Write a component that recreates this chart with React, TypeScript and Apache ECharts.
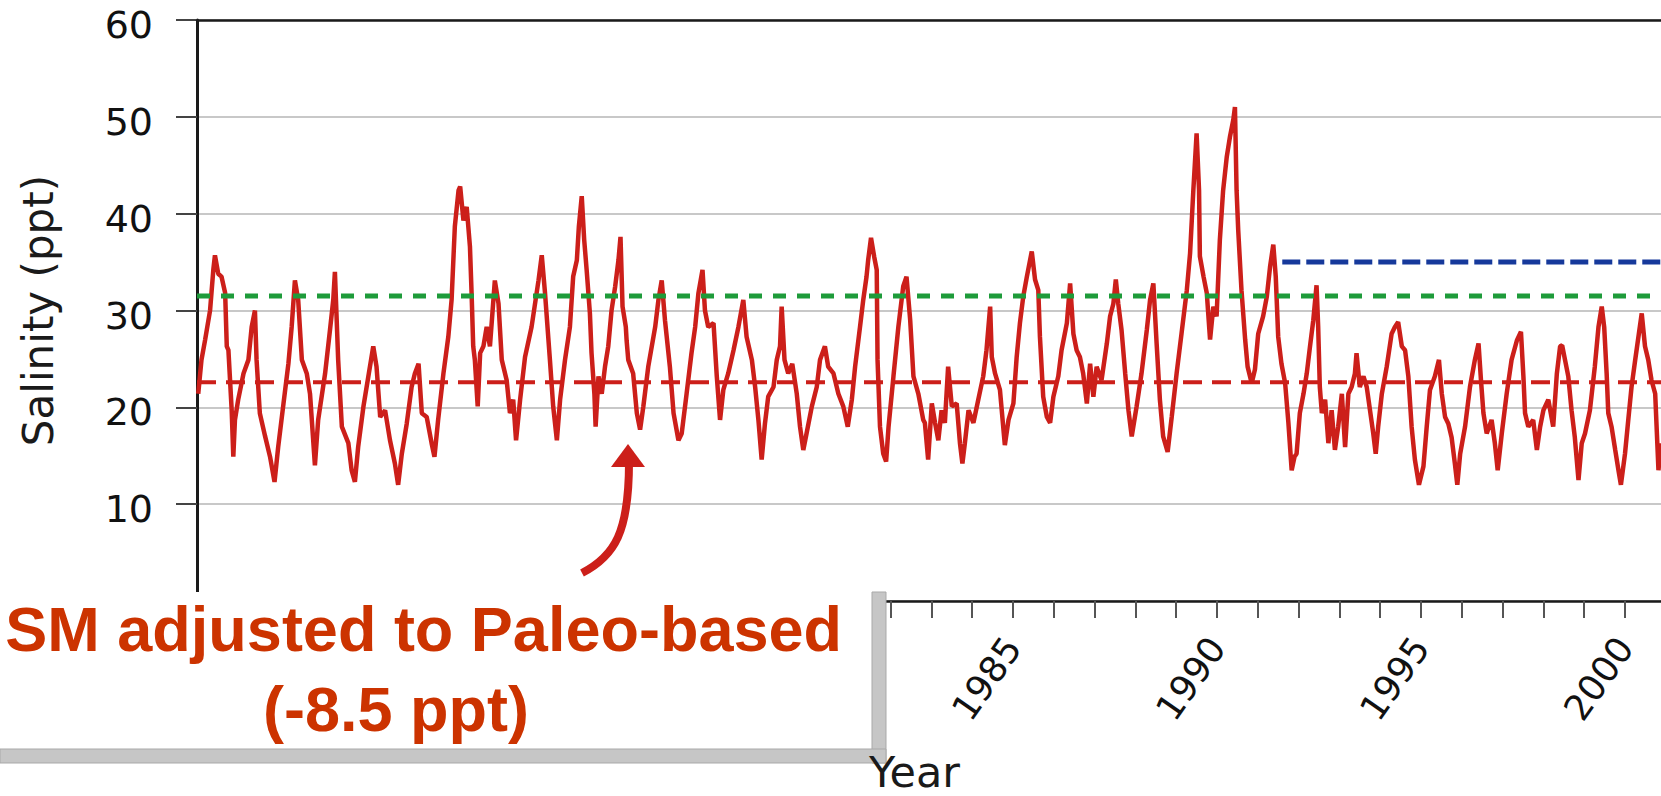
import React, { useEffect, useRef } from "react";
import * as echarts from "echarts";

// ---- data ----
const years = [
  1965.03, 1965.11, 1965.2, 1965.32, 1965.4, 1965.44, 1965.52, 1965.6, 1965.69, 1965.73, 1965.77, 1965.85, 1965.89, 1965.93,
  1966.01, 1966.14, 1966.26, 1966.34, 1966.42, 1966.46, 1966.54, 1966.67, 1966.79, 1966.9, 1966.99, 1967.12, 1967.24, 1967.32,
  1967.4, 1967.48, 1967.57, 1967.69, 1967.77, 1967.89, 1967.97, 1968.14, 1968.26, 1968.34, 1968.38, 1968.46, 1968.55, 1968.71,
  1968.79, 1968.87, 1968.95, 1969.08, 1969.2, 1969.32, 1969.4, 1969.49, 1969.61, 1969.73, 1969.85, 1969.93, 1970.02, 1970.14,
  1970.26, 1970.34, 1970.43, 1970.51, 1970.63, 1970.75, 1970.82, 1970.91, 1971.04, 1971.16, 1971.24, 1971.32, 1971.41, 1971.45,
  1971.53, 1971.61, 1971.69, 1971.73, 1971.77, 1971.81, 1971.88, 1971.94, 1972.02, 1972.1, 1972.18, 1972.3, 1972.39, 1972.47,
  1972.59, 1972.67, 1972.75, 1972.82, 1972.92, 1973.04, 1973.2, 1973.37, 1973.45, 1973.53, 1973.65, 1973.73,
  1973.82, 1973.9, 1974.02, 1974.14, 1974.22, 1974.31, 1974.36, 1974.43, 1974.49, 1974.55, 1974.63, 1974.67, 1974.74, 1974.77,
  1974.84, 1974.92, 1975.0, 1975.08, 1975.16, 1975.25, 1975.33, 1975.38, 1975.43, 1975.51, 1975.53, 1975.57, 1975.69, 1975.78,
  1975.86, 1975.94, 1976.06, 1976.23, 1976.31, 1976.39, 1976.47, 1976.59, 1976.68, 1976.8, 1976.88, 1977.0, 1977.12, 1977.21,
  1977.29, 1977.39, 1977.45, 1977.53, 1977.66, 1977.74, 1977.82, 1977.9, 1978.02, 1978.15, 1978.27, 1978.39, 1978.47, 1978.6,
  1978.68, 1978.76, 1978.84, 1978.92, 1979.0, 1979.13, 1979.21, 1979.29, 1979.33, 1979.4, 1979.49, 1979.59, 1979.7, 1979.78,
  1979.86, 1979.94, 1980.07, 1980.19, 1980.27, 1980.39, 1980.47, 1980.6, 1980.72, 1980.84, 1980.95, 1981.05, 1981.13, 1981.25,
  1981.33, 1981.41, 1981.45, 1981.52, 1981.6, 1981.66, 1981.68, 1981.74, 1981.82, 1981.89, 1981.95, 1982.07, 1982.19, 1982.31,
  1982.39, 1982.48, 1982.56, 1982.68, 1982.8,
  1982.84, 1982.92, 1983.01, 1983.09, 1983.17, 1983.25, 1983.33, 1983.41, 1983.5, 1983.62, 1983.7, 1983.76, 1983.82, 1983.91,
  1984.03, 1984.15, 1984.27, 1984.35, 1984.44, 1984.48, 1984.56, 1984.68, 1984.8, 1984.89, 1985.01, 1985.09, 1985.17, 1985.25,
  1985.34, 1985.46, 1985.54, 1985.62, 1985.66, 1985.74, 1985.83, 1985.91, 1985.99, 1986.11, 1986.19, 1986.32, 1986.4, 1986.48,
  1986.56, 1986.64, 1986.72, 1986.81, 1986.89, 1986.97, 1987.05, 1987.17, 1987.3, 1987.38, 1987.46, 1987.52, 1987.58, 1987.66,
  1987.75, 1987.83, 1987.91, 1988.03, 1988.15, 1988.28, 1988.36, 1988.44, 1988.52, 1988.6, 1988.68, 1988.79, 1988.89, 1989.01,
  1989.13, 1989.26, 1989.34, 1989.42, 1989.5, 1989.56, 1989.58, 1989.67, 1989.75, 1989.83, 1989.91, 1989.99, 1990.07, 1990.15,
  1990.24, 1990.32, 1990.4, 1990.44, 1990.48, 1990.52, 1990.6, 1990.69, 1990.75, 1990.85, 1990.93, 1991.01, 1991.13, 1991.22,
  1991.3, 1991.38, 1991.44, 1991.5, 1991.58, 1991.67, 1991.75, 1991.83, 1991.9,
  1991.95, 1992.03, 1992.12, 1992.2, 1992.28, 1992.36, 1992.44, 1992.48, 1992.52, 1992.57, 1992.65, 1992.73, 1992.81, 1992.89,
  1992.97, 1993.06, 1993.14, 1993.22, 1993.3, 1993.38, 1993.42, 1993.5, 1993.59, 1993.67, 1993.75, 1993.83, 1993.89, 1993.95,
  1994.04, 1994.16, 1994.28, 1994.36, 1994.44, 1994.53, 1994.61, 1994.69, 1994.77, 1994.85, 1994.95, 1995.06, 1995.14, 1995.22,
  1995.34, 1995.44, 1995.51, 1995.59, 1995.67, 1995.75, 1995.83, 1995.89, 1995.96, 1996.08, 1996.2, 1996.32, 1996.41, 1996.47,
  1996.53, 1996.61, 1996.73, 1996.81, 1996.88, 1996.98, 1997.1, 1997.22, 1997.35, 1997.45, 1997.51, 1997.55, 1997.63, 1997.75,
  1997.84, 1997.92, 1998.0, 1998.12, 1998.24, 1998.33, 1998.41, 1998.46, 1998.53, 1998.61, 1998.69, 1998.77, 1998.86, 1998.94,
  1999.02, 1999.14, 1999.26, 1999.35, 1999.43, 1999.49, 1999.55, 1999.59, 1999.67, 1999.76, 1999.84, 1999.9, 2000.0, 2000.08,
  2000.16, 2000.25, 2000.33, 2000.41, 2000.49, 2000.57, 2000.65, 2000.74, 2000.82, 2000.88,
];

const salinity = [
  21.4, 24.9, 27.0, 30.0, 34.2, 35.7, 33.8, 33.5, 31.8, 26.3, 25.9, 19.7, 14.9, 18.7,
  20.8, 23.5, 24.9, 28.3, 30.0, 24.9, 19.4, 17.0, 14.9, 12.3, 15.9, 20.4, 24.5, 28.3,
  33.1, 31.1, 24.9, 23.5, 21.4, 14.0, 18.7, 23.5, 28.0, 31.1, 34.0, 24.9, 18.0, 16.3,
  13.5, 12.3, 15.9, 20.1, 23.2, 26.3, 24.2, 19.0, 19.7, 16.6, 14.2, 12.0, 15.2, 18.3,
  22.1, 23.5, 24.5, 19.4, 19.0, 16.3, 14.9, 18.7, 23.5, 27.3, 31.1, 38.7, 42.4, 42.8,
  39.3, 40.7, 36.6, 31.8, 26.3, 24.9, 20.1, 25.6, 26.3, 28.3, 26.3, 33.1, 30.7, 24.9,
  22.8, 19.4, 20.8, 16.6, 20.8, 25.2, 28.3, 33.1, 35.7, 31.8, 24.9, 20.1,
  16.6, 20.8, 24.9, 28.3, 33.5, 35.2, 38.7, 41.8, 37.3, 34.2, 29.7, 25.6, 21.4, 18.0,
  23.2, 21.4, 24.2, 26.3, 30.0, 32.5, 35.2, 37.6, 30.4, 28.3, 26.9, 24.9, 23.5, 19.4,
  17.7, 20.1, 24.2, 28.3, 31.1, 33.1, 29.0, 24.2, 19.4, 16.6, 17.3, 21.4, 25.6, 28.3,
  31.8, 34.2, 30.0, 28.3, 28.7, 23.2, 18.7, 21.8, 23.5, 25.9, 28.3, 31.1, 27.3, 24.9,
  22.1, 18.7, 14.6, 18.3, 21.1, 22.1, 24.9, 26.3, 30.4, 24.9, 23.5, 24.5, 21.4, 18.0,
  15.6, 17.3, 20.1, 22.1, 24.9, 26.3, 24.2, 23.5, 21.4, 20.1, 18.0, 20.8, 24.2, 28.3,
  31.1, 33.5, 35.2, 37.5, 35.5, 34.2, 24.9, 18.0, 15.2, 14.4, 18.0, 23.2, 28.3, 32.5,
  33.5, 29.0, 23.2, 21.4, 18.7,
  18.4, 14.6, 20.4, 18.4, 16.6, 19.7, 18.4, 24.2, 20.1, 20.4, 16.3, 14.2, 16.3, 19.7,
  18.4, 20.8, 23.2, 25.9, 30.4, 25.2, 23.5, 21.8, 16.1, 18.7, 20.4, 25.2, 28.7, 31.4,
  33.5, 36.1, 33.2, 32.1, 27.3, 21.1, 19.0, 18.4, 21.1, 23.2, 25.9, 28.7, 32.8, 27.6,
  25.9, 25.2, 23.5, 20.4, 24.5, 21.1, 24.2, 22.8, 26.6, 29.4, 30.7, 33.2, 30.7, 28.0,
  23.5, 19.7, 17.0, 20.1, 23.5, 28.0, 31.1, 32.8, 26.6, 20.8, 17.0, 15.4, 19.0, 23.5,
  27.6, 32.1, 35.9, 42.4, 48.3, 42.4, 35.6, 33.5, 31.8, 27.0, 30.4, 29.4, 37.3, 42.4,
  45.9, 48.0, 49.7, 51.0, 42.4, 38.3, 32.1, 27.0, 24.2, 22.5, 23.9, 27.6, 29.4, 31.4,
  34.5, 36.8, 33.5, 27.3, 24.5, 22.5, 18.4, 13.5, 14.9,
  15.2, 19.4, 21.4, 23.5, 26.3, 29.0, 32.6, 28.3, 22.1, 19.4, 20.8, 16.3, 19.7, 15.6,
  18.0, 21.4, 15.9, 21.4, 22.1, 23.5, 25.6, 22.1, 23.2, 22.1, 19.7, 17.3, 15.2, 18.0,
  21.4, 24.2, 27.6, 28.3, 28.8, 26.3, 25.9, 23.2, 18.0, 14.6, 12.0, 13.9, 18.0, 21.8,
  23.2, 24.9, 21.4, 19.0, 18.3, 16.9, 14.2, 12.0, 15.2, 18.0, 22.1, 24.9, 26.6, 22.8,
  19.4, 17.3, 18.7, 16.3, 13.5, 17.3, 21.4, 24.9, 26.9, 27.8, 23.2, 19.4, 18.0, 18.7,
  15.6, 18.0, 19.7, 20.8, 18.0, 23.5, 26.3, 26.4, 24.9, 23.2, 19.7, 16.9, 12.5, 16.3,
  17.3, 19.7, 24.2, 28.3, 30.4, 28.3, 23.5, 19.4, 18.0, 15.6, 13.5, 12.0, 15.2, 18.7,
  22.1, 24.9, 27.3, 29.7, 26.3, 24.9, 22.8, 21.4, 13.5, 16.3,
];

// reference levels (ppt)
const paleoLevel = 22.6; // red dashed
const greenLevel = 31.5; // green dashed
const blueLevel = 35.0; // blue dashed
const blueStartYear = 1991.6;

const xMin = 1965;
const xMax = 2005;
const xLabelYears = [1965, 1970, 1975, 1980, 1985, 1990, 1995, 2000];
const yMin = 0;
const yMax = 60;
const yStep = 10;

const yAxisTitle = "Salinity (ppt)";
const xAxisTitle = "Year";
const noteLines = ["SM adjusted to Paleo-based", "(-8.5 ppt)"];

const RED = "#cc1f1a";
const NOTE = "#cc3300";

export default function App() {
  const ref = useRef<HTMLDivElement>(null);

  useEffect(() => {
    if (!ref.current) return;
    const chart = echarts.init(ref.current, null, { renderer: "svg" });
    const series = years.map((y, i) => [y, salinity[i]]);

    chart.setOption({
      animation: false,
      backgroundColor: "#ffffff",
      grid: {
        left: 197,
        top: 20,
        width: 1632,
        height: 581,
        outerBoundsMode: "none",
      },
      xAxis: [
        {
          type: "value",
          min: xMin,
          max: xMax,
          interval: 1,
          axisLine: { show: true, onZero: false, lineStyle: { color: "#1a1a1a", width: 2.5 } },
          axisTick: { show: true, length: 17, lineStyle: { color: "#555", width: 2 } },
          splitLine: { show: false },
          axisLabel: {
            rotate: 55,
            margin: 40,
            fontFamily: "DejaVu Sans",
            fontSize: 36,
            color: "#111",
            showMinLabel: true,
            showMaxLabel: false,
            hideOverlap: false,
            formatter: (v: number) => (xLabelYears.includes(Math.round(v)) ? String(Math.round(v)) : ""),
          },
        },
        {
          type: "value",
          position: "top",
          min: xMin,
          max: xMax,
          z: 5,
          axisLine: { show: true, onZero: false, lineStyle: { color: "#1a1a1a", width: 2.5 } },
          axisTick: { show: false },
          axisLabel: { show: false },
          splitLine: { show: false },
        },
      ],
      yAxis: {
        type: "value",
        min: yMin,
        max: yMax,
        interval: yStep,
        name: yAxisTitle,
        nameLocation: "middle",
        nameGap: 138,
        nameTextStyle: { fontFamily: "DejaVu Sans", fontSize: 42, color: "#1a1a1a" },
        axisLine: { show: true, lineStyle: { color: "#1a1a1a", width: 3 } },
        axisTick: { show: true, length: 21, lineStyle: { color: "#444", width: 2 } },
        splitLine: { show: true, lineStyle: { color: "#c8c8c8", width: 2 } },
        axisLabel: {
          margin: 44,
          fontFamily: "DejaVu Sans",
          fontSize: 38,
          color: "#111",
          showMinLabel: false,
          verticalAlign: "top",
          lineHeight: 10,
        },
      },
      series: [
        {
          type: "line",
          xAxisIndex: 0,
          data: series,
          showSymbol: false,
          symbol: "none",
          lineStyle: { color: RED, width: 4.5 },
          z: 2,
        },
        {
          type: "line",
          xAxisIndex: 0,
          data: [[xMin, paleoLevel], [xMax, paleoLevel]],
          showSymbol: false,
          symbol: "none",
          lineStyle: { color: RED, width: 4, type: [19, 10] },
          z: 3,
        },
        {
          type: "line",
          xAxisIndex: 0,
          data: [[xMin, greenLevel], [xMax, greenLevel]],
          showSymbol: false,
          symbol: "none",
          lineStyle: { color: "#1e9b3a", width: 5, type: [13, 11] },
          z: 3,
        },
        {
          type: "line",
          xAxisIndex: 0,
          data: [[blueStartYear, blueLevel], [xMax, blueLevel]],
          showSymbol: false,
          symbol: "none",
          lineStyle: { color: "#16399b", width: 5, type: [18, 6] },
          z: 3,
        },
      ],
      graphic: [
        {
          type: "bezierCurve",
          z: 100,
          shape: { x1: 582, y1: 573, cpx1: 615, cpy1: 556, cpx2: 629, cpy2: 532, x2: 629, y2: 462 },
          style: { stroke: RED, lineWidth: 8, fill: null },
        },
        {
          type: "polygon",
          z: 100,
          shape: { points: [[628, 444], [611, 467], [645, 467]] },
          style: { fill: RED },
        },
        {
          type: "rect",
          z: 100,
          shape: { x: 0, y: 592, width: 873, height: 157 },
          style: { fill: "#ffffff" },
        },
        {
          type: "rect",
          z: 101,
          shape: { x: 872, y: 592, width: 14, height: 171 },
          style: { fill: "#c6c6c6", stroke: "#a9a9a9", lineWidth: 1 },
        },
        {
          type: "rect",
          z: 101,
          shape: { x: 0, y: 749, width: 886, height: 14 },
          style: { fill: "#c6c6c6", stroke: "#a9a9a9", lineWidth: 1 },
        },
        {
          type: "text",
          z: 102,
          x: 842,
          y: 629,
          style: {
            text: noteLines[0],
            fill: NOTE,
            font: 'bold 63px "Liberation Sans", Arial, sans-serif',
            align: "right",
            verticalAlign: "middle",
          },
        },
        {
          type: "text",
          z: 102,
          x: 396,
          y: 709,
          style: {
            text: noteLines[1],
            fill: NOTE,
            font: 'bold 63px "Liberation Sans", Arial, sans-serif',
            align: "center",
            verticalAlign: "middle",
          },
        },
        {
          type: "text",
          z: 102,
          x: 869,
          y: 772,
          style: {
            text: xAxisTitle,
            fill: "#1a1a1a",
            font: '43px "DejaVu Sans", sans-serif',
            align: "left",
            verticalAlign: "middle",
          },
        },
      ],
    });

    return () => chart.dispose();
  }, []);

  return (
    <div
      ref={ref}
      style={{ position: "fixed", left: 0, top: 0, width: 1661, height: 796, background: "#fff" }}
    />
  );
}
